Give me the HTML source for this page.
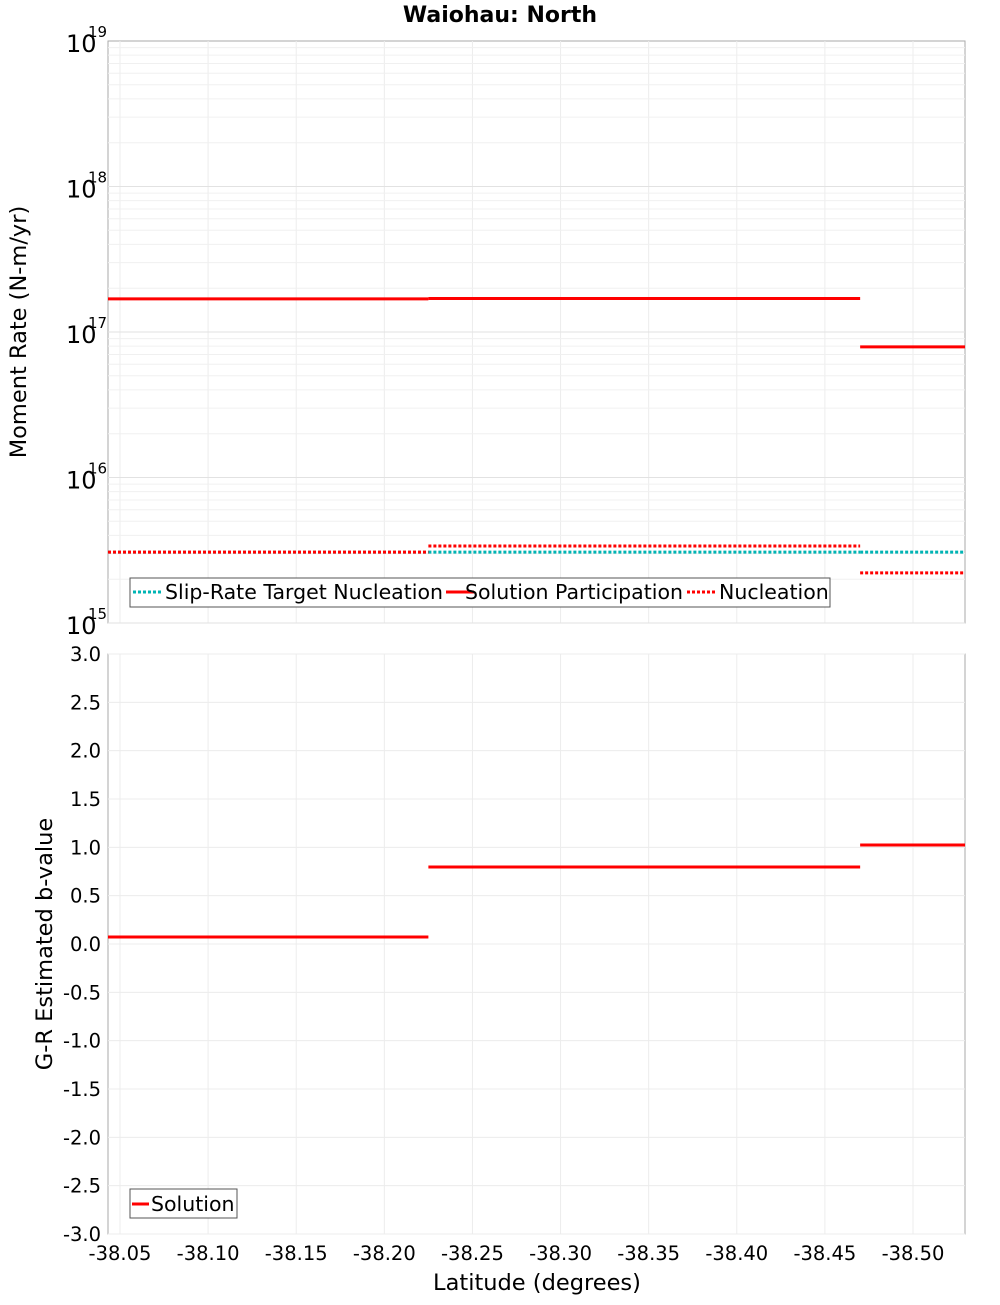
<!DOCTYPE html>
<html><head><meta charset="utf-8"><style>
body{margin:0;background:#fff;width:1000px;height:1300px;overflow:hidden}
svg text{font-family:"DejaVu Sans","Liberation Sans",sans-serif}
</style></head><body>
<svg id="c" width="1000" height="1300" xmlns="http://www.w3.org/2000/svg"></svg>
<script>
const segStart=[-38.0432,-38.225,-38.47];
const segEnd=[-38.225,-38.47,-38.5295];
const targetNucl=[3.07e15,3.07e15,3.07e15];
const solPart=[1.69e17,1.70e17,7.9e16];
const nucl=[3.07e15,3.38e15,2.21e15];
const bVals=[0.073,0.797,1.024];
const xTicks=[-38.05,-38.10,-38.15,-38.20,-38.25,-38.30,-38.35,-38.40,-38.45,-38.50];
const yTicksB=[3,2.5,2,1.5,1,0.5,0,-0.5,-1,-1.5,-2,-2.5,-3];
const decades=[15,16,17,18,19];

const L=108,R=965,T1=41,B1=623,T2=654,B2=1234;
const xMin=-38.0432,xMax=-38.5295;
const X=v=>L+(v-xMin)/(xMax-xMin)*(R-L);
const Y1=v=>B1-(Math.log10(v)-15)/4*(B1-T1);
const Y2=v=>B2-(v+3)/6*(B2-T2);
const svg=document.getElementById('c');
const NS='http://www.w3.org/2000/svg';
function el(tag,attrs,parent){const e=document.createElementNS(NS,tag);for(const k in attrs)e.setAttribute(k,attrs[k]);(parent||svg).appendChild(e);return e;}
function txt(s,attrs){const e=el('text',attrs);e.textContent=s;return e;}

let p=el('rect',{x:L,y:T1,width:R-L,height:B1-T1,fill:'#fff',stroke:'#aaa'});

p=el('rect',{x:L,y:T2,width:R-L,height:B2-T2,fill:'#fff',stroke:'#aaa'});


for(const t of xTicks){
  for(const [a,b] of [[T1,B1],[T2,B2]]){
    const g=el('line',{x1:X(t),x2:X(t),y1:a,y2:b,stroke:'#ececec'});
    
  }
  const l=txt(t.toFixed(2),{x:X(t),y:1260,'font-size':19.5,'text-anchor':'middle'});
  
}
for(let d=15;d<19;d++){for(let m=1;m<10;m++){
  const y=Y1(m*Math.pow(10,d));
  const g=el('line',{x1:L,x2:R,y1:y,y2:y,stroke:m==1?'#e2e2e2':'#f0f0f0'});
  
}}
for(const d of decades){
  const y=Y1(Math.pow(10,d));
  const g=txt('10',{x:66,y:y+11,'font-size':24});
  
  const s=txt(String(d),{x:88,y:y-4,'font-size':15});
  
}
for(const t of yTicksB){
  const y=Y2(t);
  const g=el('line',{x1:L,x2:R,y1:y,y2:y,stroke:'#ececec'});
  
  const l=txt(t.toFixed(1),{x:101,y:y+7,'font-size':19.5,'text-anchor':'end'});
  
}

function segs(vals,Y,color,dash,name){
  for(let i=0;i<vals.length;i++){
    const a={x1:X(segStart[i]),x2:X(segEnd[i]),y1:Y(vals[i]),y2:Y(vals[i]),stroke:color,'stroke-width':3};
    if(dash)a['stroke-dasharray']=dash;
    const e=el('line',a);
    
  }
}
segs(solPart,Y1,'#ff0000',null,'solution-participation-segment');
segs(targetNucl,Y1,'#00b4b4','3,2','slip-rate-target-segment');
segs(nucl,Y1,'#ff0000','3,2','nucleation-segment');
segs(bVals,Y2,'#ff0000',null,'b-value-segment');

let lg=el('rect',{x:130,y:578,width:700,height:29,fill:'#fff',stroke:'#555'});

const items=[['Slip-Rate Target Nucleation','#00b4b4','3,2',133],['Solution Participation','#ff0000',null,446],['Nucleation','#ff0000','3,2',687]];
for(const [n,c,d,x] of items){
  const a={x1:x,x2:x+28,y1:592,y2:592,stroke:c,'stroke-width':3};if(d)a['stroke-dasharray']=d;
  const e=el('line',a);
  const t=txt(n,{x:x+(x==446?19:32),y:599,'font-size':20.5});
}
lg=el('rect',{x:130,y:1189,width:107,height:29,fill:'#fff',stroke:'#555'});

let e=el('line',{x1:132,x2:149,y1:1204,y2:1204,stroke:'#ff0000','stroke-width':3});

e=txt('Solution',{x:151,y:1211,'font-size':20.5});

e=txt('Waiohau: North',{x:500,y:22,'font-size':22,'font-weight':'bold','text-anchor':'middle'});

e=txt('Latitude (degrees)',{x:537,y:1290,'font-size':22.5,'text-anchor':'middle'});

e=txt('Moment Rate (N-m/yr)',{x:0,y:0,'font-size':22.5,'text-anchor':'middle',transform:'translate(26,332) rotate(-90)'});

e=txt('G-R Estimated b-value',{x:0,y:0,'font-size':22.5,'text-anchor':'middle',transform:'translate(52,944) rotate(-90)'});

</script>
</body></html>
